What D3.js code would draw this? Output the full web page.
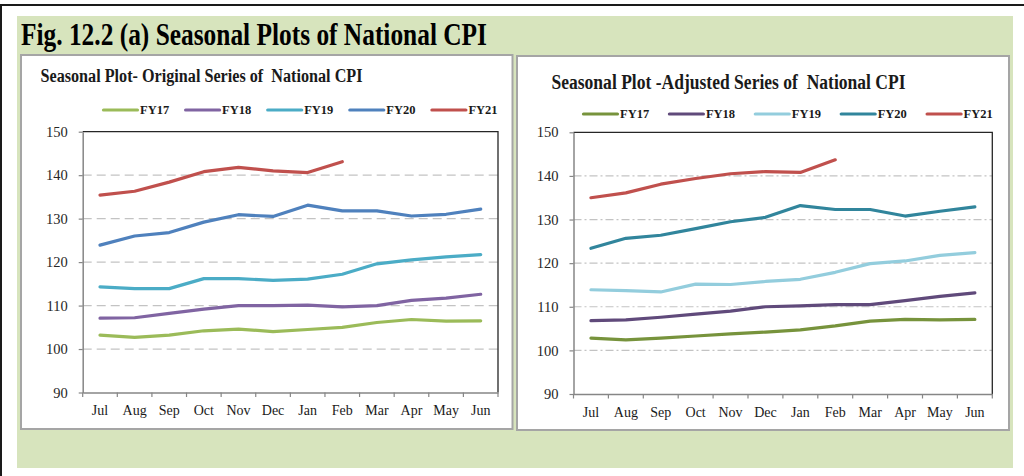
<!DOCTYPE html>
<html>
<head>
<meta charset="utf-8">
<script src="https://cdn.jsdelivr.net/npm/d3@7"></script>
<style>
  html, body { margin: 0; padding: 0; background: #fff; }
  svg { display: block; font-family: "Liberation Serif", "Times New Roman", serif; }
</style>
</head>
<body>
<div id="chart"></div>
<script>
// Data

const months = ["Jul", "Aug", "Sep", "Oct", "Nov", "Dec", "Jan", "Feb", "Mar", "Apr", "May", "Jun"];
const years = ["FY17", "FY18", "FY19", "FY20", "FY21"];
const yTicks = [90, 100, 110, 120, 130, 140, 150];

// Original series (left chart)
const origFY17 = [103.2, 102.7, 103.2, 104.2, 104.6, 104.0, 104.5, 105.0, 106.1, 106.8, 106.4, 106.5];
const origFY18 = [107.1, 107.2, 108.2, 109.2, 110.0, 110.0, 110.1, 109.7, 110.0, 111.2, 111.7, 112.6];
const origFY19 = [114.3, 113.9, 113.9, 116.2, 116.2, 115.8, 116.1, 117.2, 119.6, 120.5, 121.2, 121.7];
const origFY20 = [123.9, 126.0, 126.8, 129.2, 130.9, 130.5, 133.1, 131.8, 131.8, 130.6, 131.0, 132.2];
const origFY21 = [135.4, 136.3, 138.4, 140.8, 141.8, 141.0, 140.6, 143.1];

// Seasonally adjusted series (right chart)
const adjFY17 = [102.8, 102.4, 102.8, 103.3, 103.8, 104.2, 104.7, 105.6, 106.7, 107.1, 107.0, 107.1];
const adjFY18 = [106.8, 107.0, 107.6, 108.3, 109.0, 110.0, 110.2, 110.5, 110.5, 111.4, 112.4, 113.2];
const adjFY19 = [113.9, 113.7, 113.4, 115.2, 115.1, 115.8, 116.3, 117.9, 119.9, 120.5, 121.8, 122.4];
const adjFY20 = [123.4, 125.7, 126.4, 127.9, 129.5, 130.5, 133.2, 132.3, 132.3, 130.8, 131.9, 132.9];
const adjFY21 = [135.0, 136.1, 138.1, 139.4, 140.5, 141.0, 140.8, 143.7];

const origColors = ["#9bbb59", "#8064a2", "#4bacc6", "#4f81bd", "#c0504d"];
const adjColors  = ["#77933c", "#604a7b", "#93cddd", "#31859c", "#c0504d"];

// Canvas

const svg = d3.select("#chart").append("svg")
    .attr("width", 1024)
    .attr("height", 476);

svg.append("rect")                                   // green frame
    .attr("x", 17).attr("y", 16)
    .attr("width", 996).attr("height", 452)
    .attr("fill", "#d7e4bd");

svg.append("line")                                   // black rule on top
    .attr("x1", 0).attr("x2", 1024).attr("y1", 5).attr("y2", 5)
    .attr("stroke", "#1a1a1a").attr("stroke-width", 2);
svg.append("line")                                   // black rule on the left
    .attr("x1", 1).attr("x2", 1).attr("y1", 4).attr("y2", 476)
    .attr("stroke", "#1a1a1a").attr("stroke-width", 2);

svg.append("text")
    .attr("x", 21).attr("y", 0)
    .attr("transform", "translate(0,44.5) scale(1,1.25)")
    .attr("font-size", 26).attr("font-weight", "bold")
    .attr("textLength", 466).attr("lengthAdjust", "spacingAndGlyphs")
    .attr("fill", "#000")
    .text("Fig. 12.2 (a) Seasonal Plots of National CPI");

// One panel

const drawPanel = (cfg) => {
    const p = svg.append("g");

    p.append("rect")
        .attr("x", cfg.box[0]).attr("y", cfg.box[1])
        .attr("width", cfg.box[2]).attr("height", cfg.box[3])
        .attr("fill", "#fff").attr("stroke", "#a5a5a5").attr("stroke-width", 2);

    p.append("text")
        .attr("x", cfg.title[0]).attr("y", 0)
        .attr("transform", "translate(0," + cfg.title[1] + ") scale(1,1.18)")
        .attr("font-size", cfg.title[3]).attr("font-weight", "bold")
        .attr("textLength", cfg.title[2]).attr("lengthAdjust", "spacingAndGlyphs")
        .style("white-space", "pre")
        .attr("fill", "#1a1a1a")
        .text(cfg.name);

    const x = d3.scaleBand().domain(months).range(cfg.xr);
    const y = d3.scaleLinear().domain([90, 150]).range(cfg.yr);
    const cx = m => x(m) + x.bandwidth() / 2;

    // gridlines
    p.append("g").selectAll("line")
        .data(yTicks.slice(1, -1))
        .join("line")
            .attr("x1", cfg.xr[0]).attr("x2", cfg.xr[1])
            .attr("y1", d => y(d)).attr("y2", d => y(d))
            .attr("stroke", "#c3c3c3").attr("stroke-width", 1.2)
            .attr("stroke-dasharray", cfg.dash);

    // plot-area border (top and right)
    p.append("path")
        .attr("d", "M" + cfg.xr[0] + "," + cfg.yr[1] + "H" + cfg.xr[1] + "V" + cfg.yr[0])
        .attr("fill", "none").attr("stroke", "#262626").attr("stroke-width", 1.3);

    // y axis
    const ya = p.append("g")
        .attr("transform", "translate(" + cfg.xr[0] + ",0)")
        .call(d3.axisLeft(y).tickValues(yTicks).tickSize(4).tickPadding(11).tickSizeOuter(0));
    ya.select(".domain").attr("stroke", "#868686").attr("stroke-width", 1.5);
    ya.selectAll(".tick line").attr("stroke", "#868686").attr("stroke-width", 1.2);
    ya.selectAll("text").attr("font-size", 14.5).attr("fill", "#262626")
        .attr("font-family", "Liberation Serif, serif");

    // x axis
    const xa = p.append("g")
        .attr("transform", "translate(0," + cfg.yr[0] + ")")
        .call(d3.axisBottom(x).tickSize(0).tickPadding(13).tickSizeOuter(0));
    xa.select(".domain").attr("stroke", "#868686").attr("stroke-width", 1.5);
    xa.selectAll("text").attr("font-size", 14).attr("fill", "#1a1a1a")
        .attr("font-family", "Liberation Serif, serif");
    xa.selectAll(".edge")
        .data(months.map(m => x(m)).concat([cfg.xr[1]]))
        .join("line")
            .attr("class", "edge")
            .attr("x1", d => d).attr("x2", d => d)
            .attr("y1", 0).attr("y2", 4.5)
            .attr("stroke", "#868686").attr("stroke-width", 1.2);

    // series
    const line = d3.line()
        .x((d, i) => cx(months[i]))
        .y(d => y(d));

    p.append("g").selectAll("path")
        .data(cfg.series)
        .join("path")
            .attr("d", d => line(d))
            .attr("fill", "none")
            .attr("stroke", (d, i) => cfg.colors[i])
            .attr("stroke-width", 3.2)
            .attr("stroke-linecap", "round")
            .attr("stroke-linejoin", "round");

    // legend
    const lg = p.append("g").selectAll("g")
        .data(years)
        .join("g")
            .attr("transform", (d, i) => "translate(" + (cfg.legend[0] + i * cfg.legend[2]) + "," + cfg.legend[1] + ")");
    lg.append("line")
        .attr("x1", 0).attr("x2", 34)
        .attr("stroke", (d, i) => cfg.colors[i])
        .attr("stroke-width", 3.2).attr("stroke-linecap", "round");
    lg.append("text")
        .attr("x", 36.5).attr("dy", "0.35em")
        .attr("font-size", 12.5).attr("font-weight", "bold")
        .attr("fill", "#1a1a1a")
        .text(d => d);
};

drawPanel({
    name: "Seasonal Plot- Original Series of  National CPI",
    box: [21, 55, 491.5, 374],
    title: [40.5, 81.5, 322, 16],
    xr: [82.7, 498],
    yr: [392.5, 131.7],
    dash: "9,5",
    series: [origFY17, origFY18, origFY19, origFY20, origFY21],
    colors: origColors,
    legend: [103.5, 110, 82.1]
});

drawPanel({
    name: "Seasonal Plot -Adjusted Series of  National CPI",
    box: [517, 56, 492, 374],
    title: [551.5, 89, 354, 17],
    xr: [573.5, 992.3],
    yr: [394, 132.3],
    dash: "8,3,2,3",
    series: [adjFY17, adjFY18, adjFY19, adjFY20, adjFY21],
    colors: adjColors,
    legend: [583.5, 114, 85.9]
});
</script>
</body>
</html>
